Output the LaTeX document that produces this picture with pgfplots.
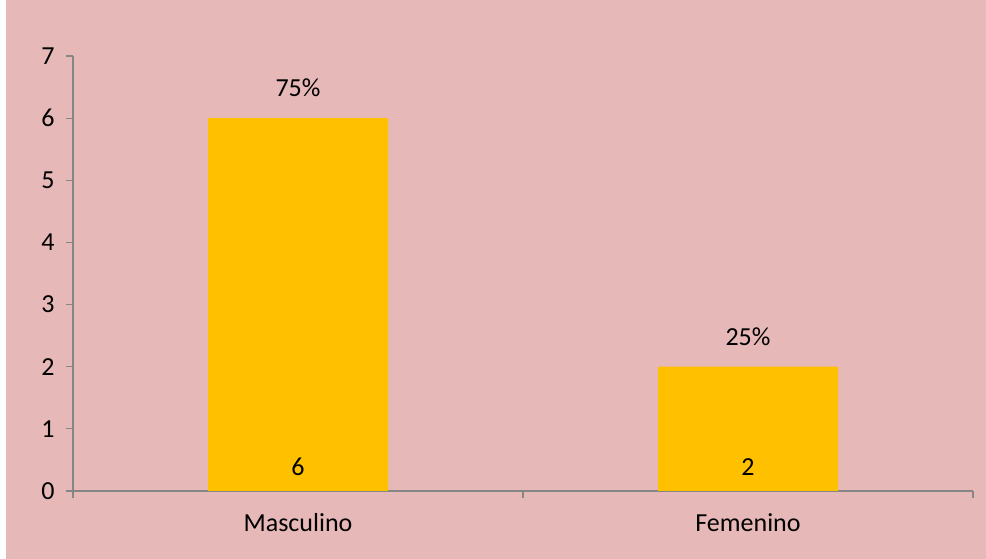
\documentclass[border=0pt]{standalone}
\usepackage{pgfplots}
\pgfplotsset{compat=1.18}
\usepackage{fontspec}
\setmainfont{Carlito}
\definecolor{bgpink}{HTML}{E6B8B7}
\definecolor{bargold}{HTML}{FFC000}
\definecolor{axgrey}{HTML}{868686}
\begin{document}
\begin{tikzpicture}
\fill[white] (0,0) rectangle (986pt,559pt);
\fill[bgpink] (6pt,0) rectangle (986pt,559pt);
\begin{axis}[
  at={(73pt,68pt)}, anchor=south west,
  scale only axis, width=900pt, height=435pt,
  xmin=-0.5, xmax=1.5, ymin=0, ymax=7,
  axis x line=bottom, axis y line=left,
  axis line style={axgrey, line width=1.2pt, -},
  xtick={-0.5,0.5,1.5}, xticklabels={},
  extra x ticks={0,1}, extra x tick labels={Masculino,Femenino},
  extra x tick style={major tick length=0pt},
  ytick={0,1,...,7},
  tick style={axgrey, line width=1.2pt},
  major tick length=7pt,
  tick align=outside,
  /pgf/number format/assume math mode=true,
  tick label style={font=\fontsize{26}{30}\selectfont, text=black},
  yticklabel style={xshift=-8pt},
  xticklabel style={yshift=-19pt},
  ybar, bar width=180pt, bar shift=0pt,
  clip=false,
]
\addplot[fill=bargold, draw=none,
  nodes near coords, point meta=explicit symbolic,
  every node near coord/.append style={font=\fontsize{26}{30}\selectfont, text=black, anchor=center, yshift=30pt}]
  coordinates {(0,6) [75\%] (1,2) [25\%]};
\addplot[draw=none, fill=none, forget plot,
  nodes near coords, point meta=explicit symbolic,
  every node near coord/.append style={font=\fontsize{26}{30}\selectfont, text=black, anchor=center, yshift=24pt}]
  coordinates {(0,0) [6] (1,0) [2]};
\end{axis}
\end{tikzpicture}
\end{document}
